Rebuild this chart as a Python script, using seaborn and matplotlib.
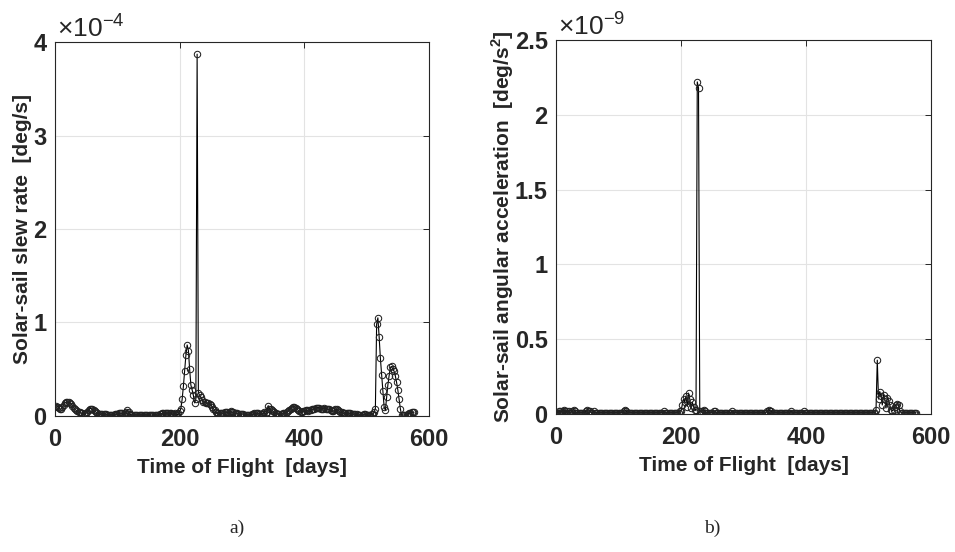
import numpy as np
import pandas as pd
import seaborn as sns
import matplotlib
matplotlib.use("Agg")
from matplotlib import pyplot as plt

# time of flight grid [days], one sample every 2 days
tof_days = np.arange(0, 578, 2)

# slew rate, in units of 1e-4 deg/s
slew_rate = [
    0.10, 0.11, 0.10, 0.09, 0.07, 0.08, 0.10, 0.12, 0.14, 0.15,
    0.15, 0.15, 0.14, 0.13, 0.11, 0.09, 0.07, 0.06, 0.05, 0.04,
    0.04, 0.03, 0.03, 0.02, 0.02, 0.03, 0.04, 0.06, 0.08, 0.08,
    0.07, 0.06, 0.05, 0.04, 0.03, 0.02, 0.02, 0.02, 0.02, 0.02,
    0.02, 0.02, 0.01, 0.01, 0.01, 0.01, 0.01, 0.01, 0.02, 0.02,
    0.02, 0.03, 0.03, 0.03, 0.03, 0.02, 0.03, 0.04, 0.06, 0.04,
    0.02, 0.01, 0.01, 0.01, 0.01, 0.01, 0.01, 0.01, 0.01, 0.01,
    0.01, 0.01, 0.01, 0.01, 0.01, 0.01, 0.01, 0.01, 0.01, 0.01,
    0.01, 0.01, 0.01, 0.01, 0.02, 0.02, 0.03, 0.03, 0.03, 0.03,
    0.03, 0.03, 0.03, 0.03, 0.02, 0.02, 0.03, 0.02, 0.01, 0.03,
    0.05, 0.08, 0.18, 0.32, 0.48, 0.65, 0.76, 0.70, 0.50, 0.33,
    0.28, 0.22, 0.14, 0.18, 3.87, 0.25, 0.22, 0.20, 0.17, 0.15,
    0.15, 0.14, 0.14, 0.14, 0.13, 0.12, 0.10, 0.08, 0.06, 0.04,
    0.03, 0.03, 0.03, 0.03, 0.03, 0.03, 0.04, 0.04, 0.04, 0.03,
    0.04, 0.05, 0.04, 0.04, 0.03, 0.03, 0.03, 0.02, 0.02, 0.02,
    0.02, 0.02, 0.01, 0.01, 0.01, 0.01, 0.01, 0.01, 0.02, 0.02,
    0.03, 0.03, 0.03, 0.03, 0.02, 0.02, 0.02, 0.03, 0.04, 0.02,
    0.04, 0.11, 0.08, 0.07, 0.06, 0.05, 0.04, 0.03, 0.02, 0.02,
    0.02, 0.02, 0.02, 0.03, 0.03, 0.03, 0.04, 0.05, 0.06, 0.08,
    0.09, 0.10, 0.10, 0.09, 0.08, 0.06, 0.05, 0.04, 0.04, 0.05,
    0.05, 0.06, 0.06, 0.05, 0.06, 0.06, 0.07, 0.07, 0.08, 0.09,
    0.09, 0.09, 0.09, 0.08, 0.08, 0.08, 0.09, 0.08, 0.08, 0.07,
    0.07, 0.06, 0.05, 0.05, 0.06, 0.07, 0.07, 0.06, 0.05, 0.04,
    0.04, 0.03, 0.03, 0.03, 0.03, 0.03, 0.03, 0.03, 0.02, 0.02,
    0.02, 0.02, 0.02, 0.01, 0.01, 0.01, 0.01, 0.01, 0.02, 0.02,
    0.01, 0.01, 0.01, 0.01, 0.02, 0.02, 0.04, 0.08, 0.98, 1.05,
    0.85, 0.62, 0.44, 0.27, 0.10, 0.06, 0.20, 0.33, 0.43, 0.52,
    0.53, 0.50, 0.48, 0.43, 0.36, 0.28, 0.18, 0.08, 0.01, 0.01,
    0.01, 0.01, 0.01, 0.02, 0.03, 0.03, 0.04, 0.04, 0.04,
]

# angular acceleration, in units of 1e-9 deg/s^2
ang_acc = [
    0.00, 0.01, 0.02, 0.02, 0.01, 0.02, 0.03, 0.02, 0.01, 0.02,
    0.02, 0.01, 0.01, 0.02, 0.03, 0.02, 0.01, 0.01, 0.01, 0.01,
    0.01, 0.01, 0.01, 0.01, 0.02, 0.03, 0.02, 0.02, 0.01, 0.01,
    0.02, 0.01, 0.01, 0.01, 0.01, 0.01, 0.01, 0.01, 0.01, 0.01,
    0.01, 0.01, 0.01, 0.01, 0.01, 0.01, 0.01, 0.01, 0.01, 0.01,
    0.01, 0.01, 0.01, 0.01, 0.02, 0.03, 0.02, 0.01, 0.01, 0.01,
    0.01, 0.01, 0.01, 0.01, 0.01, 0.01, 0.01, 0.01, 0.01, 0.01,
    0.01, 0.01, 0.01, 0.01, 0.01, 0.01, 0.01, 0.01, 0.01, 0.01,
    0.01, 0.01, 0.01, 0.01, 0.01, 0.01, 0.02, 0.01, 0.01, 0.01,
    0.01, 0.01, 0.01, 0.01, 0.01, 0.01, 0.01, 0.01, 0.01, 0.02,
    0.02, 0.06, 0.10, 0.08, 0.12, 0.05, 0.14, 0.10, 0.04, 0.08,
    0.05, 0.03, 0.03, 2.22, 2.18, 0.02, 0.01, 0.02, 0.03, 0.02,
    0.01, 0.01, 0.01, 0.01, 0.01, 0.01, 0.02, 0.02, 0.01, 0.01,
    0.01, 0.01, 0.01, 0.01, 0.01, 0.01, 0.01, 0.01, 0.01, 0.01,
    0.01, 0.02, 0.01, 0.01, 0.01, 0.01, 0.01, 0.01, 0.01, 0.01,
    0.01, 0.01, 0.01, 0.01, 0.01, 0.01, 0.01, 0.01, 0.01, 0.01,
    0.01, 0.01, 0.01, 0.01, 0.01, 0.01, 0.01, 0.01, 0.01, 0.02,
    0.03, 0.02, 0.02, 0.01, 0.01, 0.01, 0.01, 0.01, 0.01, 0.01,
    0.01, 0.01, 0.01, 0.01, 0.01, 0.01, 0.01, 0.01, 0.02, 0.01,
    0.01, 0.01, 0.01, 0.01, 0.01, 0.01, 0.01, 0.01, 0.02, 0.01,
    0.01, 0.01, 0.01, 0.01, 0.01, 0.01, 0.01, 0.01, 0.01, 0.01,
    0.01, 0.01, 0.01, 0.01, 0.01, 0.01, 0.01, 0.01, 0.01, 0.01,
    0.01, 0.01, 0.01, 0.01, 0.01, 0.01, 0.01, 0.01, 0.01, 0.01,
    0.01, 0.01, 0.01, 0.01, 0.01, 0.01, 0.01, 0.01, 0.01, 0.01,
    0.01, 0.01, 0.01, 0.01, 0.01, 0.01, 0.01, 0.01, 0.01, 0.01,
    0.01, 0.01, 0.01, 0.01, 0.01, 0.01, 0.03, 0.36, 0.10, 0.15,
    0.12, 0.06, 0.13, 0.10, 0.04, 0.11, 0.09, 0.06, 0.03, 0.02,
    0.03, 0.05, 0.06, 0.07, 0.06, 0.02, 0.01, 0.01, 0.01, 0.01,
    0.01, 0.01, 0.01, 0.01, 0.01, 0.01, 0.01, 0.01, 0.01,
]

x_ticks = [0, 200, 400, 600]
slew_ticks = [0, 1, 2, 3, 4]
acc_ticks = [0, 0.5, 1, 1.5, 2, 2.5]
acc_tick_labels = ["0", "0.5", "1", "1.5", "2", "2.5"]

sns.set_style("white")
plt.rcParams["font.family"] = ["Liberation Sans", "DejaVu Sans"]
plt.rcParams["mathtext.fontset"] = "custom"
plt.rcParams["mathtext.rm"] = "Liberation Sans"
plt.rcParams["mathtext.bf"] = "Liberation Sans:bold"

df = pd.DataFrame({"tof": tof_days, "slew": slew_rate, "acc": ang_acc})

fig = plt.figure(figsize=(9.55, 5.52), dpi=100)
ax1 = fig.add_axes([0.0576, 0.2464, 0.3916, 0.6775])
ax2 = fig.add_axes([0.5822, 0.2500, 0.3927, 0.6775])

panels = [
    (ax1, "slew", slew_ticks, None, 4, r"$\times\mathrm{10}^{-4}$",
     "Solar-sail slew rate  [deg/s]", -0.088),
    (ax2, "acc", acc_ticks, acc_tick_labels, 2.5, r"$\times\mathrm{10}^{-9}$",
     r"Solar-sail angular acceleration  [deg/s$^{\mathbf{2}}$]", -0.143),
]

for ax, col, yt, ytl, ymax, offset, ylab, ylab_x in panels:
    sns.lineplot(data=df, x="tof", y=col, ax=ax, color="black", lw=0.8,
                 marker="o", markersize=4.6, markerfacecolor="none",
                 markeredgecolor="#222222", markeredgewidth=0.75)
    ax.set_xlim(0, 600)
    ax.set_ylim(0, ymax)
    ax.set_xticks(x_ticks)
    ax.set_yticks(yt)
    if ytl is not None:
        ax.set_yticklabels(ytl)
    ax.grid(True, color="#e3e3e3", lw=0.8)
    ax.tick_params(direction="in", length=4, width=0.7, labelsize=17,
                   colors="#262626", top=True, right=True)
    ax.tick_params(axis="x", pad=9)
    ax.tick_params(axis="y", pad=6)
    for lab in ax.get_xticklabels() + ax.get_yticklabels():
        lab.set_fontweight("bold")
    for sp in ax.spines.values():
        sp.set_color("#262626")
        sp.set_linewidth(0.8)
    ax.set_xlabel("Time of Flight  [days]", fontsize=15, fontweight="bold",
                  color="#262626", va="center")
    ax.set_ylabel(ylab, fontsize=15, fontweight="bold", color="#262626",
                  va="center")
    ax.xaxis.set_label_coords(0.5, -0.139)
    ax.yaxis.set_label_coords(ylab_x, 0.5)
    ax.text(0.005, 1.0, offset, transform=ax.transAxes, fontsize=19,
            color="#262626", va="bottom", ha="left")

fig.text(0.248, 0.0435, "a)", family="Liberation Serif", fontsize=14,
         ha="center", va="center")
fig.text(0.746, 0.0435, "b)", family="Liberation Serif", fontsize=14,
         ha="center", va="center")

fig.savefig("out.png", dpi=100)
